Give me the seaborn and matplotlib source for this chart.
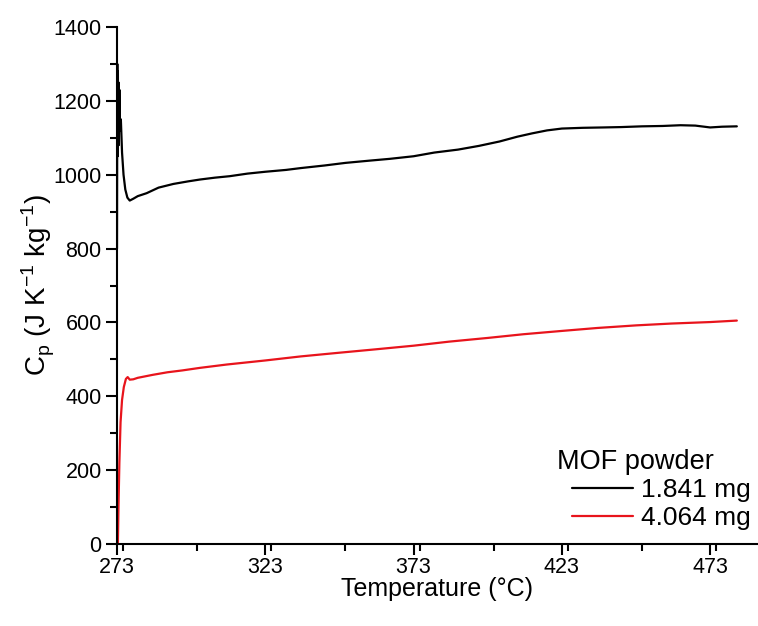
import matplotlib
matplotlib.use("Agg")
import matplotlib.pyplot as plt
import seaborn as sns
import pandas as pd
from matplotlib.ticker import MultipleLocator, FixedLocator

# ---- data ----
temp_a = [273.0, 273.1, 273.2, 273.3, 273.4, 273.5, 273.6, 273.8, 274.0, 274.3, 274.7,
          275.2, 275.8, 276.5, 277.3, 278.5, 280, 283, 287, 292, 297, 301, 306, 311,
          317, 323, 330, 335, 343, 350, 358, 365, 373, 380, 388, 395, 402, 408, 413,
          418, 423, 430, 437, 443, 450, 457, 463, 468, 473, 477, 482]
cp_a = [800, 1300, 1050, 1280, 1100, 1250, 1080, 1230, 1120, 1150, 1060,
        1000, 960, 938, 930, 935, 942, 950, 965, 975, 982, 987, 992, 996,
        1003, 1008, 1013, 1018, 1025, 1032, 1038, 1043, 1050, 1060, 1068, 1078, 1090, 1103, 1112,
        1120, 1125, 1127, 1128, 1129, 1131, 1132, 1134, 1133, 1128, 1130, 1131]

temp_b = [273.3, 273.5, 273.8, 274.2, 274.7, 275.3, 276.0, 276.6, 277.3, 278.5, 280,
          285, 290, 295, 301, 310, 323, 335, 348, 360, 373, 385, 398, 410, 423,
          435, 448, 460, 473, 482]
cp_b = [0, 100, 220, 330, 390, 425, 447, 452, 445, 446, 450,
        458, 465, 470, 477, 486, 497, 508, 518, 527, 537, 548, 558, 568, 577,
        585, 592, 597, 601, 605]

series_names = ["1.841 mg", "4.064 mg"]
legend_title = "MOF powder"
x_ticks = [273, 323, 373, 423, 473]
y_ticks = [0, 200, 400, 600, 800, 1000, 1200, 1400]

df = pd.concat([
    pd.DataFrame({"T": temp_a, "Cp": cp_a, "sample": series_names[0]}),
    pd.DataFrame({"T": temp_b, "Cp": cp_b, "sample": series_names[1]}),
], ignore_index=True)

sns.set_style("ticks")
plt.rcParams['font.family'] = ['Liberation Sans', 'DejaVu Sans']
plt.rcParams['text.color'] = 'black'
plt.rcParams['axes.labelcolor'] = 'black'
plt.rcParams['xtick.color'] = 'black'
plt.rcParams['ytick.color'] = 'black'
plt.rcParams['axes.edgecolor'] = 'black'

fig = plt.figure(figsize=(7.58, 6.26), dpi=100)
ax = fig.add_axes([117/758, (626-544)/626, 640/758, (544-27)/626])

sns.lineplot(data=df, x="T", y="Cp", hue="sample", palette=["black", "#e8141c"],
             linewidth=1.6, ax=ax, sort=False, estimator=None)

ax.set_xlim(273, 488.8)
ax.set_ylim(0, 1400)
ax.xaxis.set_major_locator(FixedLocator(x_ticks))
ax.xaxis.set_minor_locator(MultipleLocator(25))
ax.yaxis.set_major_locator(FixedLocator(y_ticks))
ax.yaxis.set_minor_locator(MultipleLocator(100))
for s in ["top", "right"]:
    ax.spines[s].set_visible(False)
for s in ["left", "bottom"]:
    ax.spines[s].set_linewidth(1.5)
ax.tick_params(which="major", direction="out", length=8, width=1.5, labelsize=15.5)
ax.tick_params(axis="x", which="major", pad=1.5)
ax.tick_params(axis="y", which="major", pad=3)
ax.tick_params(which="minor", direction="out", length=5, width=1.5)

ax.set_xlabel("Temperature (°C)", fontsize=18, labelpad=-1)
ax.set_ylabel(r"$\mathregular{C_p}$ (J K$^{\mathregular{-1}}$ kg$^{\mathregular{-1}}$)",
              fontsize=20, labelpad=-2)

leg = ax.legend(loc="center left", bbox_to_anchor=(0.711, 0.0774),
                frameon=False, fontsize=19, handlelength=2.3, borderpad=0,
                borderaxespad=0, handletextpad=0.3, labelspacing=0.15)
for line in leg.get_lines():
    line.set_linewidth(1.6)
ax.text(0.6875, 0.1586, legend_title, transform=ax.transAxes, fontsize=19.5,
        ha="left", va="center")

fig.savefig("out.png", dpi=100)
